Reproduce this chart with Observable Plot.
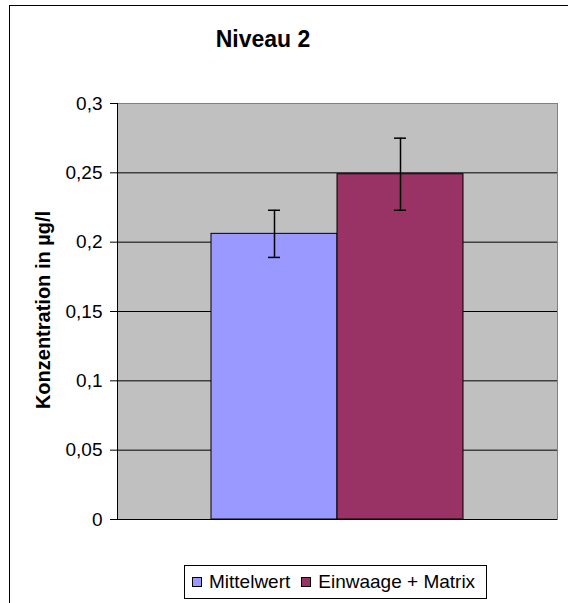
<!DOCTYPE html>
<html><head><meta charset="utf-8">
<script src="https://cdn.jsdelivr.net/npm/d3@7"></script>
<script src="https://cdn.jsdelivr.net/npm/@observablehq/plot@0.6"></script>
<style>
body{margin:0;background:#fff;font-family:"Liberation Sans",Arial,sans-serif;}
#wrap{position:relative;width:568px;height:603px;overflow:hidden;background:#fff;}
#frame{position:absolute;left:9px;top:5px;width:800px;height:800px;border-left:1px solid #000;border-top:1px solid #000;}
#chart{position:absolute;left:0;top:0;}
#title{position:absolute;left:0;width:526px;top:28px;text-align:center;font-weight:bold;font-size:23px;line-height:1;color:#000;}
#ylab{position:absolute;left:43px;top:310px;transform:translate(-50%,-50%) rotate(-90deg);white-space:nowrap;font-weight:bold;font-size:20px;line-height:1;color:#000;}
#legend{position:absolute;left:184px;top:565px;width:301px;height:32px;border:1px solid #000;background:#fff;display:flex;align-items:center;font-size:19px;color:#000;}
.sw{display:inline-block;width:8px;height:8px;border:1px solid #000;margin-right:7px;}
</style>
</head><body>
<div id="wrap">
  <div id="frame"></div>
  <div id="chart"></div>
  <div id="title">Niveau 2</div>
  <div id="ylab">Konzentration in µg/l</div>
  <div id="legend"></div>
</div>
<script>
const categories = ["Mittelwert", "Einwaage + Matrix"];
const means = [0.206, 0.249];
const errLow = [0.189, 0.223];
const errHigh = [0.223, 0.275];
const colors = ["#9999FF", "#993366"];
const yTicks = [0, 0.05, 0.1, 0.15, 0.2, 0.25, 0.3];
const tickLabels = ["0", "0,05", "0,1", "0,15", "0,2", "0,25", "0,3"];
const titleText = "Niveau 2";
const yLabel = "Konzentration in µg/l";

const data = categories.map((c, i) => ({cat: c, mean: means[i], lo: errLow[i], hi: errHigh[i]}));

const chart = Plot.plot({
  width: 568,
  height: 603,
  marginLeft: 117,
  marginRight: 11,
  marginTop: 103,
  marginBottom: 84,
  style: {background: "transparent", fontFamily: "'Liberation Sans', Arial, sans-serif", fontSize: "19px", color: "#000"},
  x: {domain: categories, paddingInner: 0, paddingOuter: 0.746, align: 0.5, axis: null},
  y: {domain: [0, 0.3]},
  color: {domain: categories, range: colors},
  marks: [
    Plot.frame({fill: "#C0C0C0", stroke: "#808080"}),
    Plot.ruleY(yTicks.slice(1, -1), {stroke: "#000", strokeWidth: 1}),
    Plot.barY(data, {x: "cat", y: "mean", fill: "cat", stroke: "#000", strokeWidth: 1}),
    Plot.ruleX(data, {x: "cat", y1: "lo", y2: "hi", stroke: "#000", strokeWidth: 1.5}),
    Plot.tickY(data, {x: "cat", y: "lo", insetLeft: 57, insetRight: 57, stroke: "#000", strokeWidth: 1.5}),
    Plot.tickY(data, {x: "cat", y: "hi", insetLeft: 57, insetRight: 57, stroke: "#000", strokeWidth: 1.5}),
    Plot.ruleY([0], {stroke: "#000", strokeWidth: 1}),
    Plot.frame({anchor: "left", stroke: "#000"}),
    Plot.axisY({ticks: yTicks, tickFormat: d => tickLabels[yTicks.indexOf(d)], tickSize: 7, tickPadding: 8, label: null, fontSize: 19})
  ]
});
document.getElementById("chart").appendChild(chart);
document.getElementById("title").textContent = titleText;
document.getElementById("ylab").textContent = yLabel;

const leg = document.getElementById("legend");
categories.forEach((c, i) => {
  const sw = document.createElement("span");
  sw.className = "sw";
  sw.style.background = colors[i];
  sw.style.marginLeft = i === 0 ? "7px" : "11px";
  leg.appendChild(sw);
  const t = document.createElement("span");
  t.textContent = c;
  leg.appendChild(t);
});
</script>
</body></html>
